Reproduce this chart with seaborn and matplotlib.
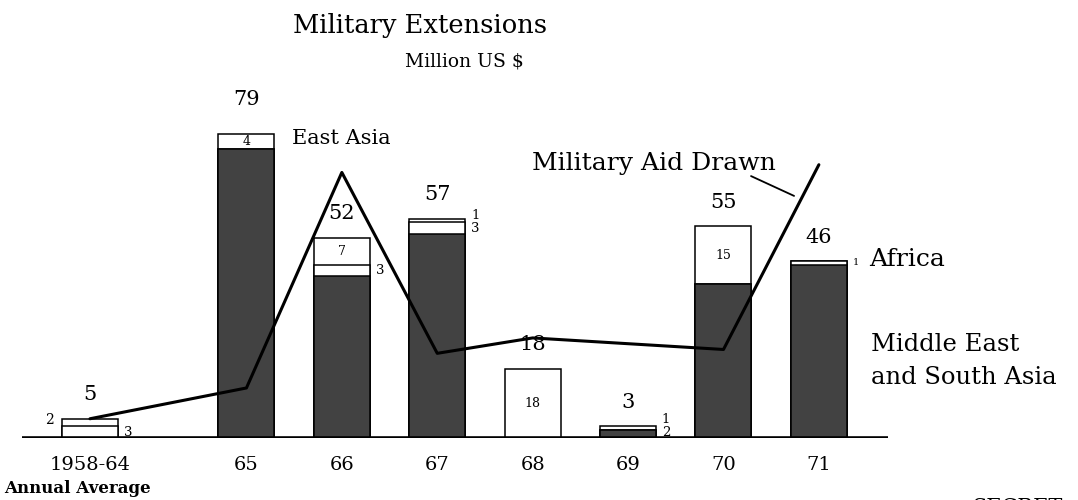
import numpy as np
import matplotlib
matplotlib.use("Agg")
import matplotlib.pyplot as plt
import seaborn as sns

# data (million US $)
years = ["1958-64", "65", "66", "67", "68", "69", "70", "71"]
mesa = [0, 75, 42, 53, 0, 2, 40, 45]          # Middle East and South Asia
africa = [3, 0, 3, 3, 0, 0, 0, 1]
east_asia = [2, 4, 7, 1, 18, 1, 15, 0]
aid_drawn = [5, 13, 69, 22, 26, 24.5, 23, 71]

sns.set_style("white")
plt.rcParams["font.family"] = ["DejaVu Serif"]
plt.rcParams["text.color"] = "black"
plt.rcParams["xtick.color"] = "black"
plt.rcParams["xtick.labelcolor"] = "black"

# layout: first bar (annual average) set apart from the yearly bars
xpos = np.r_[0, np.arange(1, 8) + 0.64]
bar_w = 0.587
dark = "#424242"

fig = plt.figure(figsize=(10.78, 5.0), dpi=100)
ax = fig.add_axes([0, 0.124, 1, 0.876])

lower = np.array(mesa)
mid = lower + np.array(africa)
totals = mid + np.array(east_asia)

# stacked bars drawn from the tallest layer down
for heights, col in [(totals, "white"), (mid, "white"), (lower, dark)]:
    sns.barplot(x=xpos, y=heights, native_scale=True, width=bar_w, color=col,
                saturation=1, edgecolor="black", linewidth=1.1, errorbar=None, ax=ax)

sns.lineplot(x=xpos, y=aid_drawn, color="black", linewidth=2.2, ax=ax, zorder=5)

ax.set_xlim(-0.943, 10.356)
ax.set_ylim(0, 113.8)
ax.hlines(0, -0.713, 8.365, color="black", linewidth=2.6, zorder=6)
for s in ax.spines.values():
    s.set_visible(False)
ax.set_yticks([])
ax.set_xticks(xpos)
ax.set_xticklabels(years, fontsize=14, color="black")
ax.tick_params(axis="x", length=0, pad=13)

# totals above bars
for x, t in zip(xpos, totals):
    pad = 9 if t == totals.max() else 6.2
    ax.text(x, t + pad, str(t), ha="center", va="center", fontsize=15)

# segment labels
for i, x in enumerate(xpos):
    segs = [(0, mesa[i], True), (mesa[i], africa[i], False), (mid[i], east_asia[i], False)]
    outside = []
    for base, v, is_dark in segs:
        if v == 0:
            continue
        if v >= 4:
            if not is_dark:
                ax.text(x, base + v / 2, str(v), ha="center", va="center", fontsize=9)
        else:
            outside.append((base + v / 2, v))
    y_prev = None
    for j, (yc, v) in enumerate(outside):
        y = max(yc, 1.5) if y_prev is None else max(yc, y_prev + 3.2)
        y_prev = y
        if i == 0 and j == len(outside) - 1:
            ax.text(x - bar_w / 2 - 0.09, y, str(v), ha="right", va="center", fontsize=10)
        else:
            fs = 7 if i == 7 else 9.5
            ax.text(x + bar_w / 2 + 0.06, y, str(v), ha="left", va="center", fontsize=fs)

# titles and series labels
ax.text(3.46, 107.3, "Military Extensions", ha="center", va="center", fontsize=18.5)
ax.text(3.92, 97.7, "Million US $", ha="center", va="center", fontsize=13.5)
ax.text(2.117, 77.9, "East Asia", ha="left", va="center", fontsize=15)
ax.text(4.633, 71.4, "Military Aid Drawn", ha="left", va="center", fontsize=18)
ax.plot([6.929, 7.38], [68.05, 62.9], color="black", linewidth=1.3)
ax.text(8.166, 46.5, "Africa", ha="left", va="center", fontsize=18)
ax.text(8.187, 24.2, "Middle East", ha="left", va="center", fontsize=17.5)
ax.text(8.187, 15.6, "and South Asia", ha="left", va="center", fontsize=17.5)
ax.text(-0.9, -13.0, "Annual Average", ha="left", va="center", fontsize=12,
        fontweight="bold", clip_on=False)
ax.text(9.245, -15.6, "SECRET", ha="left", va="top", fontsize=15, clip_on=False)

fig.savefig("out.png", dpi=100)
